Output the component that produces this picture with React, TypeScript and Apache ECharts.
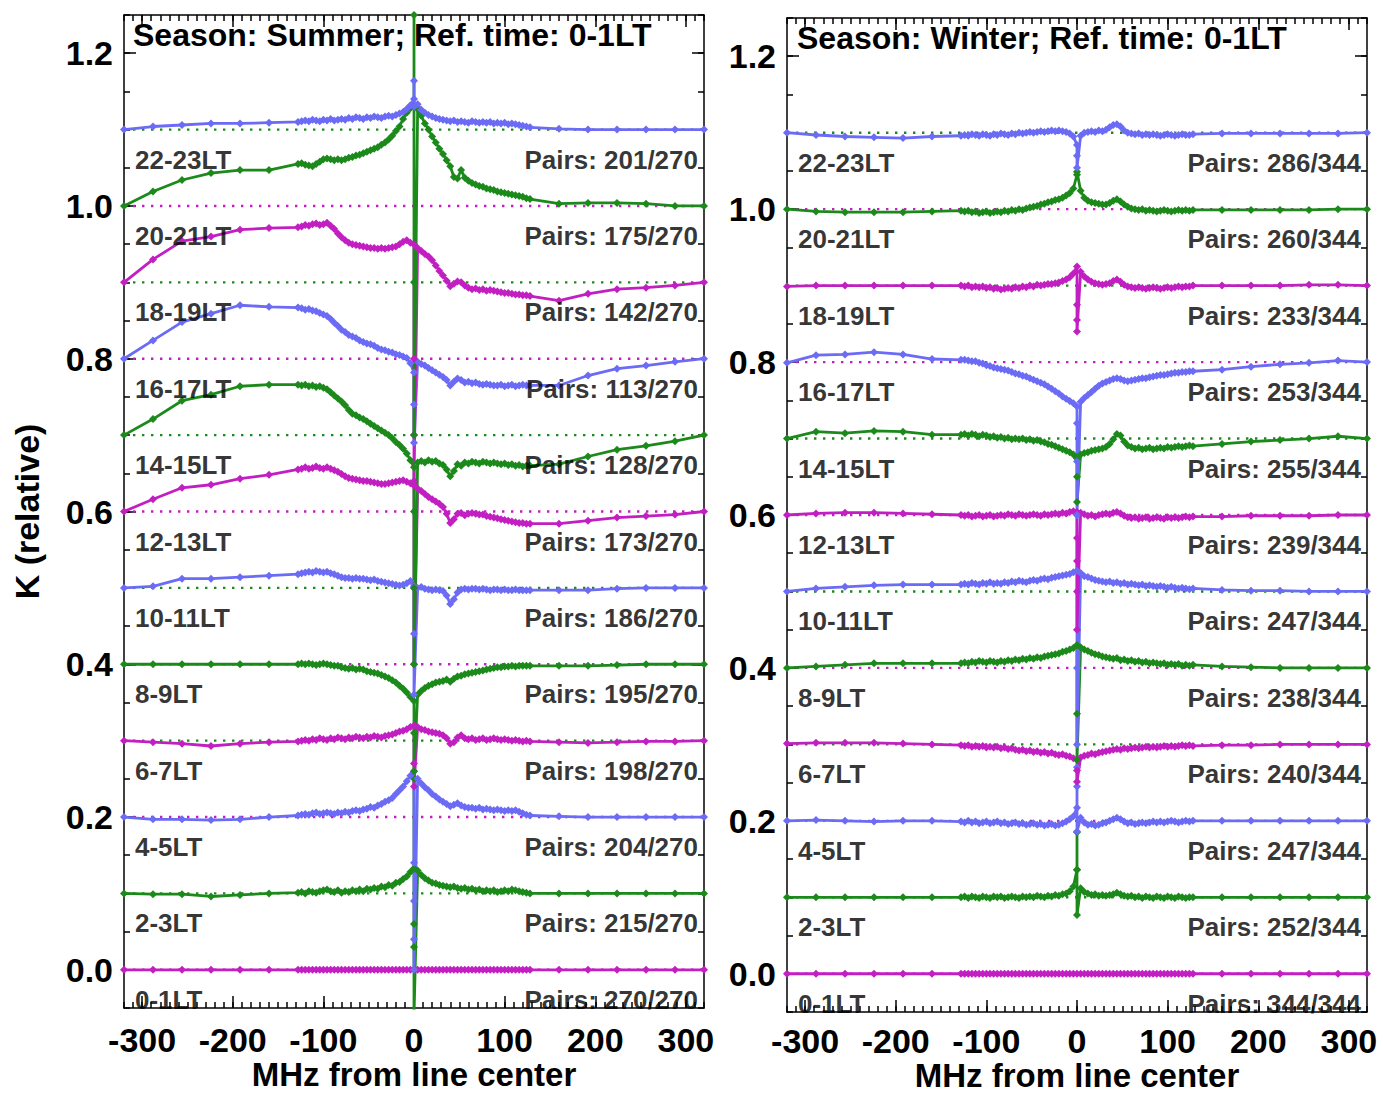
import React, { useEffect, useRef } from "react";
import * as echarts from "echarts";

// Frequency grid (MHz from line center): coarse wings, 4 MHz sampling inside ±128 MHz.
const FREQ = [
  -320, -288, -256, -224, -192, -160,
  -128, -124, -120, -116, -112, -108, -104, -100,
  -96, -92, -88, -84, -80, -76, -72, -68,
  -64, -60, -56, -52, -48, -44, -40, -36,
  -32, -28, -24, -20, -16, -12, -8, -4,
  0,
  4, 8, 12, 16, 20, 24, 28, 32,
  36, 40, 44, 48, 52, 56, 60, 64,
  68, 72, 76, 80, 84, 88, 92, 96,
  100, 104, 108, 112, 116, 120, 124, 128,
  160, 192, 224, 256, 288, 320,
];

const LT_LABELS = [
  "0-1LT", "2-3LT", "4-5LT", "6-7LT", "8-9LT", "10-11LT",
  "12-13LT", "14-15LT", "16-17LT", "18-19LT", "20-21LT", "22-23LT",
];
// Vertical stacking offset of each local-time curve
const STACK_OFFSETS = [0, 0.1, 0.2, 0.3, 0.4, 0.5, 0.6, 0.7, 0.8, 0.9, 1.0, 1.1];

const SUMMER_PAIRS = [270, 215, 204, 198, 195, 186, 173, 128, 113, 142, 175, 201];
const SUMMER_TOTAL = 270;
const WINTER_PAIRS = [344, 252, 247, 240, 238, 247, 239, 255, 253, 233, 260, 286];
const WINTER_TOTAL = 344;

const X_MAJOR = [-300, -200, -100, 0, 100, 200, 300];
const Y_MAJOR = [0, 0.2, 0.4, 0.6, 0.8, 1.0, 1.2];

// K deviations from each curve's stacking offset, in units of 0.001, on the FREQ grid.
// Row layout: wings -320..-160 | -128..-100 | -96..-68 | -64..-36 | -32..-4 | 0 | 4..32 | 36..64 | 68..96 | 100..128 | wings 160..320
const SUMMER_00 = [
  0, 0, 0, 0, 0, 0,
  0, 0, 0, 0, 0, 0, 0, 0,
  0, 0, 0, 0, 0, 0, 0, 0,
  0, 0, 0, 0, 0, 0, 0, 0,
  0, 0, 0, 0, 0, 0, 0, 0,
  0,
  0, 0, 0, 0, 0, 0, 0, 0,
  0, 0, 0, 0, 0, 0, 0, 0,
  0, 0, 0, 0, 0, 0, 0, 0,
  0, 0, 0, 0, 0, 0, 0, 0,
  0, 0, 0, 0, 0, 0,
];
const SUMMER_02 = [
  0, -1, -1, -4, -2, 0,
  1, 2, 0, 3, 2, 1, 3, 4,
  5, 3, 2, 4, 1, 3, 2, 4,
  3, 5, 3, 6, 5, 7, 6, 9,
  8, 11, 10, 14, 15, 19, 22, 28,
  33,
  30, 24, 20, 17, 14, 13, 11, 10,
  9, 8, 9, 7, 6, 7, 5, 6,
  4, 5, 3, 4, 3, 4, 2, 3,
  4, 3, 5, 4, 3, 2, 1, 0,
  0, 0, 0, 0, 0, 0,
];
const SUMMER_04 = [
  0, -3, -3, -4, -3, 0,
  2, 3, 4, 3, 5, 6, 4, 5,
  6, 5, 4, 6, 5, 7, 6, 8,
  9, 8, 10, 11, 13, 12, 15, 17,
  20, 22, 25, 30, 35, 40, 47, 54,
  60,
  50, 44, 39, 35, 30, 27, 23, 20,
  17, 14, 16, 18, 15, 13, 12, 12,
  11, 12, 10, 11, 10, 9, 10, 9,
  8, 9, 8, 9, 7, 5, 3, 2,
  1, 0, 0, 0, 0, 0,
];
const SUMMER_06 = [
  0, -2, -4, -7, -4, -2,
  -1, 0, 1, 0, 2, 1, 3, 2,
  1, 3, 2, 4, 3, 2, 4, 3,
  5, 4, 3, 5, 4, 6, 5, 4,
  6, 7, 8, 10, 12, 13, 15, 18,
  20,
  18, 15, 14, 12, 11, 10, 9, 7,
  3, -4, -2, 4, 7, 3, 2, 3,
  1, 2, 3, 1, 2, 3, 2, 1,
  2, 1, 0, 1, 0, -1, 0, -1,
  -2, -3, -2, -1, -1, 0,
];
const SUMMER_08 = [
  0, 0, 0, 0, 0, 0,
  0, 1, 0, 1, 0, -1, 0, 1,
  0, -1, -2, -2, -4, -5, -6, -5,
  -7, -6, -7, -9, -10, -11, -12, -14,
  -16, -18, -21, -24, -28, -32, -37, -43,
  -48,
  -40, -35, -31, -28, -26, -24, -23, -22,
  -20, -23, -19, -16, -15, -13, -12, -11,
  -10, -9, -8, -7, -6, -5, -4, -4,
  -3, -3, -2, -3, -2, -2, -2, -2,
  -2, -2, -1, 0, 0, 0,
];
const SUMMER_10 = [
  0, 2, 12, 12, 14, 16,
  18, 19, 20, 21, 20, 22, 21, 20,
  21, 19, 18, 16, 14, 13, 13, 12,
  13, 12, 12, 11, 10, 11, 9, 8,
  7, 6, 5, 4, 3, 4, 6, 9,
  2,
  0, 1, -1, -2, -3, -2, -3, -4,
  -10, -21, -15, -6, -2, -1, -2, -1,
  -1, -2, -1, -2, -3, -2, -2, -3,
  -2, -3, -3, -2, -3, -3, -3, -3,
  -3, -3, -1, 0, 0, 0,
];
const SUMMER_12 = [
  0, 16, 31, 35, 43, 48,
  55, 56, 58, 56, 57, 59, 57, 56,
  58, 56, 54, 52, 49, 46, 44, 43,
  42, 41, 40, 40, 39, 38, 37, 36,
  36, 37, 38, 39, 40, 41, 39, 37,
  34,
  30, 27, 23, 19, 16, 13, 10, 6,
  -3, -15, -10, -3, -2, -5, -3, -2,
  -3, -4, -4, -6, -7, -8, -9, -10,
  -11, -12, -13, -14, -15, -15, -16, -16,
  -16, -12, -8, -6, -4, 0,
];
const SUMMER_14 = [
  0, 21, 45, 53, 64, 66,
  66, 65, 66, 64, 65, 63, 64, 62,
  60, 56, 52, 48, 44, 39, 33, 28,
  26, 23, 21, 18, 15, 12, 9, 6,
  3, 0, -4, -9, -13, -18, -24, -33,
  -42,
  -36, -34, -36, -33, -35, -34, -37, -39,
  -45, -54, -47, -38, -40, -36, -37, -35,
  -36, -37, -35, -36, -37, -36, -37, -38,
  -37, -39, -38, -40, -39, -41, -40, -40,
  -38, -28, -19, -14, -8, 0,
];
const SUMMER_16 = [
  0, 24, 48, 59, 70, 68,
  67, 66, 64, 65, 63, 62, 60, 58,
  56, 52, 47, 43, 38, 35, 31, 29,
  27, 24, 22, 20, 19, 17, 14, 12,
  11, 9, 8, 6, 5, 3, 1, -6,
  -18,
  -4, -7, -9, -12, -15, -18, -21, -24,
  -28, -35, -30, -26, -28, -31, -30, -32,
  -31, -33, -34, -33, -34, -35, -35, -34,
  -36, -35, -34, -36, -35, -34, -35, -35,
  -35, -22, -13, -9, -4, 0,
];
const SUMMER_18 = [
  0, 30, 54, 60, 69, 71,
  72, 73, 75, 74, 76, 77, 75, 76,
  78, 74, 70, 64, 59, 55, 52, 50,
  49, 48, 47, 46, 45, 45, 44, 45,
  44, 45, 46, 47, 50, 53, 55, 52,
  50,
  45, 41, 37, 34, 29, 22, 15, 9,
  2, -5, -2, 1, 0, -4, -7, -9,
  -8, -10, -9, -11, -10, -11, -12, -13,
  -14, -14, -15, -16, -16, -17, -17, -18,
  -24, -15, -9, -7, -4, 0,
];
const SUMMER_20 = [
  0, 19, 34, 43, 47, 47,
  55, 56, 54, 53, 52, 55, 58, 61,
  62, 61, 60, 61, 60, 61, 63, 64,
  66, 67, 69, 71, 73, 75, 77, 80,
  83, 87, 92, 98, 104, 114, 122, 128,
  130,
  127, 118, 108, 100, 91, 83, 75, 68,
  60, 52, 38, 36, 47, 37, 33, 30,
  28, 26, 25, 23, 22, 21, 19, 18,
  17, 16, 15, 14, 13, 12, 10, 9,
  3, 4, 4, 3, 0, 0,
];
const SUMMER_22 = [
  0, 4, 6, 8, 8, 9,
  10, 11, 12, 11, 13, 12, 11, 13,
  12, 14, 12, 13, 14, 13, 15, 14,
  16, 15, 14, 16, 15, 17, 16, 15,
  17, 18, 17, 19, 21, 23, 27, 32,
  40,
  33, 26, 22, 19, 17, 15, 14, 13,
  12, 11, 12, 10, 11, 10, 9, 11,
  10, 9, 10, 9, 10, 8, 9, 8,
  9, 7, 8, 7, 6, 5, 4, 3,
  1, 0, 0, 0, 0, 0,
];

// Extra samples stacked at 0 MHz (line-center streaks), same units
const SUMMER_SPIKES = [
  [], [150, -40, -70, -160], [-60, -110, -160, -200], [-30, -60],
  [-90, -140], [-60, -140], [-100, -200], [-100, -200, -300],
  [-60, -110], [-100, -200, -260], [250, -100, -300], [64, 30],
];

const WINTER_00 = [
  0, 0, 0, 0, 0, 0,
  0, 0, 0, 0, 0, 0, 0, 0,
  0, 0, 0, 0, 0, 0, 0, 0,
  0, 0, 0, 0, 0, 0, 0, 0,
  0, 0, 0, 0, 0, 0, 0, 0,
  0,
  0, 0, 0, 0, 0, 0, 0, 0,
  0, 0, 0, 0, 0, 0, 0, 0,
  0, 0, 0, 0, 0, 0, 0, 0,
  0, 0, 0, 0, 0, 0, 0, 0,
  0, 0, 0, 0, 0, 0,
];
const WINTER_02 = [
  0, 0, 0, 0, 0, 0,
  0, 1, -1, 1, 0, -1, 1, 0,
  -1, 1, 0, 1, -1, 0, 1, 0,
  -1, 1, 0, 1, 0, 2, 1, 0,
  2, 1, 3, 2, 4, 5, 8, 14,
  36,
  12, 7, 5, 3, 4, 2, 3, 2,
  3, 4, 6, 4, 2, 1, 2, 0,
  1, -1, 1, 0, -1, 1, 0, -1,
  1, 0, -1, 1, 0, -1, 0, 0,
  0, 0, 0, 0, 0, 0,
];
const WINTER_04 = [
  0, 1, 0, -1, 0, 0,
  -1, -2, 0, -2, -1, -3, -2, -1,
  -3, -2, -1, -3, -2, -4, -3, -2,
  -4, -3, -5, -4, -3, -5, -4, -6,
  -5, -4, -6, -5, -3, -1, 2, 6,
  17,
  4, -2, -5, -4, -6, -5, -3, -2,
  0, 2, 4, 2, -1, -3, -2, -4,
  -3, -2, -3, -2, -1, -2, -1, -2,
  -1, 0, -1, -2, -1, 0, -1, 0,
  0, 0, 0, 0, 0, 0,
];
const WINTER_06 = [
  1, 2, 2, 2, 1, 0,
  -1, -2, -1, -3, -2, -3, -2, -4,
  -3, -4, -3, -5, -4, -6, -5, -7,
  -8, -7, -9, -8, -10, -9, -11, -10,
  -12, -11, -13, -14, -13, -15, -16, -18,
  -20,
  -17, -15, -14, -12, -13, -11, -10, -9,
  -8, -7, -6, -7, -5, -6, -5, -4,
  -5, -4, -3, -4, -3, -4, -3, -2,
  -3, -2, -3, -2, -1, -2, -1, -2,
  -1, -1, 0, 0, 0, 0,
];
const WINTER_08 = [
  0, 2, 4, 6, 6, 6,
  6, 7, 6, 8, 7, 9, 8, 7,
  9, 8, 7, 9, 8, 10, 9, 11,
  10, 12, 11, 13, 12, 14, 13, 15,
  16, 17, 18, 19, 21, 22, 24, 26,
  30,
  27, 24, 22, 20, 18, 17, 15, 14,
  13, 12, 13, 10, 11, 9, 10, 8,
  9, 7, 8, 6, 7, 6, 5, 6,
  4, 5, 4, 5, 3, 4, 3, 4,
  2, 1, 0, 0, 0, 0,
];
const WINTER_10 = [
  0, 4, 6, 8, 9, 9,
  9, 10, 9, 11, 10, 9, 11, 10,
  12, 10, 11, 10, 12, 11, 13, 12,
  14, 13, 12, 14, 15, 14, 16, 17,
  16, 18, 19, 20, 21, 22, 23, 25,
  27,
  24, 20, 19, 17, 15, 14, 13, 12,
  13, 11, 12, 10, 11, 9, 10, 9,
  8, 9, 7, 8, 7, 6, 7, 6,
  5, 6, 5, 4, 5, 4, 3, 4,
  2, 1, 1, 0, 0, 0,
];
const WINTER_12 = [
  0, 2, 3, 3, 2, 1,
  0, -1, 0, -2, -1, 0, -2, -1,
  0, -2, -1, 0, -1, 1, 0, -1,
  1, 0, -1, 0, 1, 0, -1, 1,
  0, 1, 2, 1, 3, 2, 4, 5,
  4,
  3, 1, -1, 0, -2, 0, 1, 2,
  1, 3, 4, 2, -1, -3, -4, -3,
  -5, -4, -3, -5, -4, -3, -4, -5,
  -3, -4, -3, -4, -3, -2, -3, -2,
  -2, -1, -1, -1, 0, 0,
];
const WINTER_14 = [
  0, 9, 7, 10, 9, 5,
  5, 6, 4, 6, 5, 3, 5, 4,
  2, 3, 1, 2, 0, 1, -1, 0,
  -1, 0, -2, -1, -3, -2, -4, -5,
  -7, -8, -10, -12, -14, -16, -18, -21,
  -26,
  -21, -19, -18, -16, -15, -14, -13, -11,
  -7, -1, 6, 4, -4, -9, -11, -13,
  -12, -14, -13, -12, -14, -13, -12, -13,
  -11, -12, -11, -10, -11, -10, -9, -10,
  -7, -4, -2, 0, 3, 0,
];
const WINTER_16 = [
  -1, 9, 10, 13, 10, 4,
  3, 3, 2, 1, 1, -1, -2, -4,
  -5, -7, -8, -9, -10, -11, -13, -15,
  -16, -18, -19, -21, -23, -25, -27, -29,
  -32, -35, -38, -41, -45, -48, -51, -54,
  -58,
  -52, -47, -43, -39, -35, -31, -28, -26,
  -24, -22, -21, -22, -24, -25, -24, -23,
  -22, -21, -21, -20, -19, -18, -17, -17,
  -16, -15, -14, -14, -13, -13, -12, -12,
  -10, -6, -3, -1, 2, 0,
];
const WINTER_18 = [
  -1, 0, 0, 0, 0, 0,
  0, -1, 0, -2, -1, -2, -1, -3,
  -2, -4, -3, -5, -4, -3, -4, -2,
  -3, -1, -2, 0, -1, 1, 0, 1,
  2, 2, 3, 4, 6, 8, 11, 16,
  25,
  18, 12, 8, 5, 3, 2, 1, 2,
  3, 6, 8, 5, 1, -1, -2, -3,
  -2, -3, -4, -3, -2, -3, -4, -3,
  -2, -3, -2, -1, -2, -1, -1, 0,
  0, 0, 0, 1, 1, 0,
];
const WINTER_20 = [
  0, -3, -4, -4, -4, -3,
  -2, -3, -2, -4, -3, -5, -4, -3,
  -5, -4, -3, -4, -2, -3, -1, -2,
  0, -1, 1, 2, 3, 4, 6, 7,
  9, 10, 12, 13, 15, 18, 21, 27,
  45,
  24, 15, 11, 9, 8, 7, 6, 6,
  8, 11, 13, 10, 6, 3, 1, 0,
  -1, 0, -2, -1, -2, -3, -2, -1,
  -2, -3, -2, -1, -2, -1, -2, -1,
  -1, -1, -1, -1, 0, 0,
];
const WINTER_22 = [
  0, -3, -5, -6, -7, -5,
  -4, -3, -4, -2, -3, -4, -2, -3,
  -4, -2, -3, -1, -2, -3, -1, -2,
  0, -1, 0, 1, 0, 1, 2, 1,
  2, 3, 2, 3, 2, 1, -1, -5,
  -16,
  -4, 0, 1, 2, 1, 3, 2, 4,
  7, 10, 11, 8, 3, 0, -1, -2,
  -1, -3, -2, -3, -2, -3, -4, -3,
  -2, -3, -4, -3, -2, -3, -3, -2,
  -1, -1, -1, -1, -1, 0,
];

const WINTER_SPIKES = [
  [], [85, 36, -23], [45, 70, -14], [-34, -49],
  [-60, -120], [100, -100, -200], [-30, -60, -100, -150], [-50, -83],
  [-80, -130, -200], [-25, -45, -60], [49], [-30, -46],
];

const SUMMER_DK = [
  SUMMER_00, SUMMER_02, SUMMER_04, SUMMER_06, SUMMER_08, SUMMER_10,
  SUMMER_12, SUMMER_14, SUMMER_16, SUMMER_18, SUMMER_20, SUMMER_22,
];
const WINTER_DK = [
  WINTER_00, WINTER_02, WINTER_04, WINTER_06, WINTER_08, WINTER_10,
  WINTER_12, WINTER_14, WINTER_16, WINTER_18, WINTER_20, WINTER_22,
];

const MAGENTA = "#c21fc2";
const GREEN = "#1b8a1b";
const BLUE = "#6b6bf5";
const CURVE_COLORS = [MAGENTA, GREEN, BLUE];
const FONT = "Liberation Sans";

const GRIDS = [
  { left: 124, top: 15, width: 580, height: 993, outerBoundsMode: "none", containLabel: false },
  { left: 787, top: 18, width: 580, height: 994, outerBoundsMode: "none", containLabel: false },
];
// per panel: gap from the bottom frame to the tick labels and to the x-axis title
const X_LABEL_MARGINS = [15, 12];
const X_NAME_GAPS = [53, 50];

function curvePoints(dk: number[], spike: number[], offset: number) {
  if (dk.length !== FREQ.length) console.error("length mismatch", dk.length);
  const pts: number[][] = [];
  FREQ.forEach((f, i) => {
    pts.push([f, +(offset + dk[i] / 1000).toFixed(4)]);
    if (f === 0) spike.forEach((s) => pts.push([0, +(offset + s / 1000).toFixed(4)]));
  });
  return pts;
}

const frameLine = { show: true, onZero: false, lineStyle: { color: "#000", width: 1.5 } };
const tickLine = { color: "#000", width: 1.5 };
const boldText = { fontFamily: FONT, fontWeight: "bold" as const, color: "#000" };

function xAxesFor(g: number) {
  const base = { gridIndex: g, type: "value" as const, min: -320, max: 320, splitLine: { show: false } };
  return [
    {
      ...base,
      position: "bottom",
      axisLine: frameLine,
      axisTick: { show: true, inside: true, length: 12, customValues: X_MAJOR, lineStyle: tickLine },
      axisLabel: {
        show: true,
        customValues: X_MAJOR,
        margin: X_LABEL_MARGINS[g],
        fontSize: 34,
        lineHeight: 34,
        ...boldText,
      },
      name: "MHz from line center",
      nameLocation: "middle",
      nameGap: X_NAME_GAPS[g],
      nameMoveOverlap: false,
      nameTextStyle: { fontSize: 33, lineHeight: 26, ...boldText },
    },
    {
      ...base,
      position: "bottom",
      interval: 10,
      axisLine: { show: false, onZero: false },
      axisTick: { show: true, inside: true, length: 6, lineStyle: tickLine },
      axisLabel: { show: false },
    },
    {
      ...base,
      position: "top",
      axisLine: frameLine,
      axisTick: { show: true, inside: true, length: 12, customValues: X_MAJOR, lineStyle: tickLine },
      axisLabel: { show: false },
    },
    {
      ...base,
      position: "top",
      interval: 10,
      axisLine: { show: false, onZero: false },
      axisTick: { show: true, inside: true, length: 6, lineStyle: tickLine },
      axisLabel: { show: false },
    },
  ];
}

function yAxesFor(g: number) {
  const base = { gridIndex: g, type: "value" as const, min: -0.05, max: 1.25, splitLine: { show: false } };
  const main: any = {
    ...base,
    position: "left",
    axisLine: frameLine,
    axisTick: { show: true, inside: true, length: 12, customValues: Y_MAJOR, lineStyle: tickLine },
    axisLabel: {
      show: true,
      customValues: Y_MAJOR,
      formatter: (v: number) => v.toFixed(1),
      margin: 11,
      fontSize: 34,
      lineHeight: 34,
      ...boldText,
    },
  };
  if (g === 0) {
    main.name = "K (relative)";
    main.nameLocation = "middle";
    main.nameGap = 80;
    main.nameMoveOverlap = false;
    main.nameTextStyle = { fontSize: 34, lineHeight: 34, ...boldText };
  }
  return [
    main,
    {
      ...base,
      position: "left",
      interval: 0.05,
      axisLine: { show: false, onZero: false },
      axisTick: { show: true, inside: true, length: 6, lineStyle: tickLine },
      axisLabel: { show: false },
    },
    {
      ...base,
      position: "right",
      axisLine: frameLine,
      axisTick: { show: true, inside: true, length: 12, customValues: Y_MAJOR, lineStyle: tickLine },
      axisLabel: { show: false },
    },
    {
      ...base,
      position: "right",
      interval: 0.05,
      axisLine: { show: false, onZero: false },
      axisTick: { show: true, inside: true, length: 6, lineStyle: tickLine },
      axisLabel: { show: false },
    },
  ];
}

function panelSeries(g: number, dks: number[][], spikes: number[][], pairs: number[], total: number) {
  const ax = { xAxisIndex: g * 4, yAxisIndex: g * 4 };
  const out: any[] = [];
  // dotted reference levels
  STACK_OFFSETS.forEach((off, k) => {
    out.push({
      type: "line",
      ...ax,
      data: [[-320, off], [320, off]],
      symbol: "none",
      silent: true,
      z: 1,
      lineStyle: { color: k % 2 === 1 ? GREEN : MAGENTA, width: 2.4, type: [2.4, 6.6] },
    });
  });
  // stacked K curves
  STACK_OFFSETS.forEach((off, k) => {
    const color = CURVE_COLORS[k % 3];
    out.push({
      type: "line",
      ...ax,
      name: LT_LABELS[k],
      data: curvePoints(dks[k], spikes[k], off),
      symbol: "diamond",
      symbolSize: 8,
      showSymbol: true,
      itemStyle: { color },
      lineStyle: { color, width: 2.8 },
      z: 2,
    });
  });
  // curve annotations
  const labelData: any[] = [];
  STACK_OFFSETS.forEach((off, k) => {
    labelData.push({ name: LT_LABELS[k], value: [-320, off], label: { align: "left", offset: [11, 30] } });
    labelData.push({
      name: `Pairs: ${pairs[k]}/${total}`,
      value: [320, off],
      label: { align: "right", offset: [-6, 30] },
    });
  });
  out.push({
    type: "scatter",
    ...ax,
    data: labelData,
    symbolSize: 1,
    clip: false,
    silent: true,
    itemStyle: { color: "rgba(0,0,0,0)" },
    z: 5,
    label: {
      show: true,
      position: "inside",
      formatter: "{b}",
      verticalAlign: "middle",
      fontSize: 26,
      ...boldText,
    },
  });
  return out;
}

function buildOption() {
  return {
    animation: false,
    backgroundColor: "#ffffff",
    title: [
      {
        text: "Season: Summer; Ref. time: 0-1LT",
        left: 133,
        top: 19,
        padding: 0,
        textStyle: { fontSize: 32, lineHeight: 32, ...boldText },
      },
      {
        text: "Season: Winter; Ref. time: 0-1LT",
        left: 797,
        top: 22,
        padding: 0,
        textStyle: { fontSize: 32, lineHeight: 32, ...boldText },
      },
    ],
    grid: GRIDS,
    xAxis: [...xAxesFor(0), ...xAxesFor(1)],
    yAxis: [...yAxesFor(0), ...yAxesFor(1)],
    series: [
      ...panelSeries(0, SUMMER_DK, SUMMER_SPIKES, SUMMER_PAIRS, SUMMER_TOTAL),
      ...panelSeries(1, WINTER_DK, WINTER_SPIKES, WINTER_PAIRS, WINTER_TOTAL),
    ],
  };
}

export default function App() {
  const ref = useRef<HTMLDivElement>(null);
  useEffect(() => {
    const chart = echarts.init(ref.current!, null, { renderer: "svg" });
    chart.setOption(buildOption() as any);
    return () => chart.dispose();
  }, []);
  return (
    <div
      ref={ref}
      style={{ position: "absolute", left: 0, top: 0, width: 1383, height: 1094, background: "#fff" }}
    />
  );
}
